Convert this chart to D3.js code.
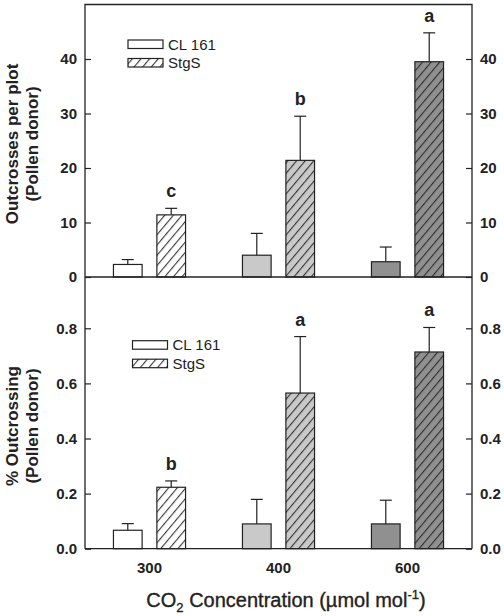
<!DOCTYPE html>
<html>
<head>
<meta charset="utf-8">
<script src="https://cdn.jsdelivr.net/npm/d3@7"></script>
<style>
  html, body { margin: 0; padding: 0; background: #fff; }
  svg { display: block; }
  text { font-family: Arial, "Liberation Sans", sans-serif; fill: #222; }
</style>
</head>
<body>
<svg id="chart" width="504" height="616"></svg>
<script>
// ---- data ----
const co2Levels = ["300", "400", "600"];
const lines = ["CL 161", "StgS"];

const outCL = [2.3, 4.0, 2.8];
const outCLErr = [0.9, 4.0, 2.7];
const outStg = [11.4, 21.4, 39.5];
const outStgErr = [1.2, 8.1, 5.3];
const outLetters = ["c", "b", "a"];

const pctCL = [0.067, 0.09, 0.09];
const pctCLErr = [0.024, 0.089, 0.086];
const pctStg = [0.223, 0.565, 0.714];
const pctStgErr = [0.023, 0.205, 0.089];
const pctLetters = ["b", "a", "a"];

const outTicks = [0, 10, 20, 30, 40];
const pctTicks = [0, 0.2, 0.4, 0.6, 0.8];

// ---- styles ----
const fills = ["#ffffff", "#c9c9c9", "#909090"];
const ink = "#222";

const svg = d3.select("#chart");
const defs = svg.append("defs");
const pat = defs.append("pattern")
  .attr("id", "hatch")
  .attr("patternUnits", "userSpaceOnUse")
  .attr("width", 6.6).attr("height", 10)
  .attr("patternTransform", "rotate(40)");
pat.append("line").attr("x1", 0.6).attr("y1", -1).attr("x2", 0.6).attr("y2", 11)
  .attr("stroke", ink).attr("stroke-width", 1);

const L = 85, R = 472;
const x = d3.scaleBand().domain(co2Levels).range([L, R]).padding(0);
const xi = d3.scaleBand().domain(lines).range([0, x.bandwidth()])
  .paddingInner(0.34).paddingOuter(0.655);

const yTop = d3.scaleLinear().domain([0, 50]).range([277, 4.5]);
const yBot = d3.scaleLinear().domain([0, 1]).range([548.7, 273.2]);

function panel(y, cl, clErr, stg, stgErr, letters, ticks, fmt, titles, titleCY, legendX, legendY) {
  const g = svg.append("g");
  const rows = [];
  co2Levels.forEach((c, i) => {
    rows.push({ c, i, line: lines[0], v: cl[i], e: clErr[i] });
    rows.push({ c, i, line: lines[1], v: stg[i], e: stgErr[i] });
  });
  // error bars
  rows.forEach(d => {
    const cx = x(d.c) + xi(d.line) + xi.bandwidth() / 2;
    g.append("line").attr("x1", cx).attr("x2", cx)
      .attr("y1", y(d.v)).attr("y2", y(d.v + d.e))
      .attr("stroke", ink).attr("stroke-width", 1.2);
    g.append("line").attr("x1", cx - 6).attr("x2", cx + 6)
      .attr("y1", y(d.v + d.e)).attr("y2", y(d.v + d.e))
      .attr("stroke", ink).attr("stroke-width", 1.2);
  });
  // bars
  rows.forEach(d => {
    const bx = x(d.c) + xi(d.line);
    g.append("rect").attr("x", bx).attr("y", y(d.v))
      .attr("width", xi.bandwidth()).attr("height", y(0) - y(d.v))
      .attr("fill", fills[d.i]);
    if (d.line === lines[1]) {
      g.append("rect").attr("x", bx).attr("y", y(d.v))
        .attr("width", xi.bandwidth()).attr("height", y(0) - y(d.v))
        .attr("fill", "url(#hatch)");
    }
    g.append("rect").attr("x", bx).attr("y", y(d.v))
      .attr("width", xi.bandwidth()).attr("height", y(0) - y(d.v))
      .attr("fill", "none").attr("stroke", ink).attr("stroke-width", 1.2);
  });
  // letters
  rows.filter(d => d.line === lines[1]).forEach(d => {
    const cx = x(d.c) + xi(d.line) + xi.bandwidth() / 2;
    g.append("text").attr("x", cx).attr("y", y(d.v + d.e) - 11)
      .attr("text-anchor", "middle").attr("font-weight", "bold")
      .attr("font-size", 18).text(letters[d.i]);
  });
  // axes (ticks inward)
  const left = d3.axisLeft(y).tickValues(ticks).tickFormat(fmt).tickSizeInner(-6).tickSizeOuter(0).tickPadding(8);
  const right = d3.axisRight(y).tickValues(ticks).tickFormat(fmt).tickSizeInner(-6).tickSizeOuter(0).tickPadding(8);
  const ga = g.append("g").attr("transform", `translate(${L},0)`).call(left);
  const gb = g.append("g").attr("transform", `translate(${R},0)`).call(right);
  [ga, gb].forEach(a => {
    a.select(".domain").remove();
    a.selectAll("line").attr("stroke", ink).attr("stroke-width", 1.2);
    a.selectAll("text").attr("font-size", 15).attr("font-weight", "bold")
      .attr("fill", ink).style("font-family", "Arial, 'Liberation Sans', sans-serif");
  });
  // y titles
  titles.forEach((t, k) => {
    g.append("text")
      .attr("transform", `translate(${[18, 38][k]},${titleCY}) rotate(-90)`)
      .attr("text-anchor", "middle").attr("font-weight", "bold")
      .attr("font-size", 17).text(t);
  });
  // legend
  lines.forEach((ln, k) => {
    const ly = legendY + k * 18.5;
    g.append("rect").attr("x", legendX).attr("y", ly).attr("width", 35).attr("height", 8.5)
      .attr("fill", "#fff");
    if (k === 1) g.append("rect").attr("x", legendX).attr("y", ly).attr("width", 35).attr("height", 8.5)
      .attr("fill", "url(#hatch)");
    g.append("rect").attr("x", legendX).attr("y", ly).attr("width", 35).attr("height", 8.5)
      .attr("fill", "none").attr("stroke", ink).attr("stroke-width", 1.2);
    g.append("text").attr("x", legendX + 40).attr("y", ly + 9.5)
      .attr("font-size", 15).text(ln);
  });
}

panel(yTop, outCL, outCLErr, outStg, outStgErr, outLetters, outTicks, d3.format("d"),
  ["Outcrosses per plot", "(Pollen donor)"], 144, 128, 40);
panel(yBot, pctCL, pctCLErr, pctStg, pctStgErr, pctLetters, pctTicks, d3.format(".1f"),
  ["% Outcrossing", "(Pollen donor)"], 426, 132.5, 340.7);

// frame
const fr = svg.append("g").attr("fill", "none").attr("stroke", ink).attr("stroke-width", 1.3);
fr.append("path").attr("d", `M${L},${yBot(0)}V${yTop(50)}H${R}V${yBot(0)}`);
fr.append("line").attr("x1", L).attr("x2", R).attr("y1", yTop(0)).attr("y2", yTop(0));
fr.append("line").attr("x1", L).attr("x2", R).attr("y1", yBot(0)).attr("y2", yBot(0));

// x tick labels
svg.append("g").selectAll("text").data(co2Levels).join("text")
  .attr("x", d => x(d) + x.bandwidth() / 2).attr("y", 573)
  .attr("text-anchor", "middle").attr("font-weight", "bold").attr("font-size", 15)
  .text(d => d);

// x title
const xt = svg.append("text").attr("x", 286).attr("y", 606.5)
  .attr("text-anchor", "middle").attr("font-size", 20)
  .style("stroke", "#222").style("stroke-width", 0.35);
xt.append("tspan").text("CO");
xt.append("tspan").attr("font-size", 13).attr("dy", 5).text("2");
xt.append("tspan").attr("dy", -5).text(" Concentration (µmol mol");
xt.append("tspan").attr("font-size", 13).attr("dy", -8).text("-1");
xt.append("tspan").attr("dy", 8).text(")");
</script>
</body>
</html>
